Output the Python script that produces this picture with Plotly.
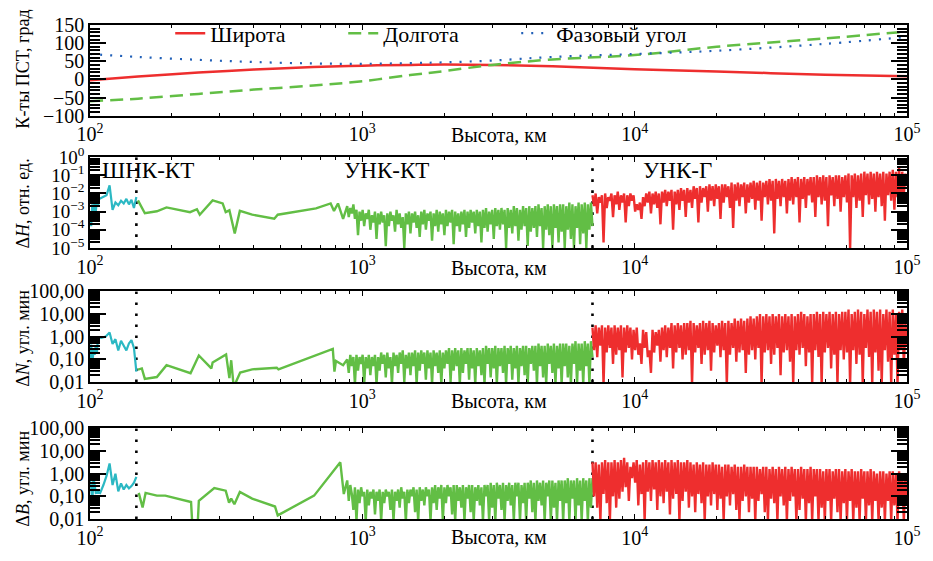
import numpy as np
import plotly.graph_objects as go

FONT = "Liberation Serif, Times New Roman, serif"
RED = "#EE2E2E"
GREEN = "#62BE45"
CYAN = "#2BB8C3"
BLUE = "#2160B8"

# ---------------- Panel 1: coordinates of the pole (deg) ----------------
ALT_P1 = [100, 150, 250, 400, 660, 1000, 1500, 2000, 3000, 5000, 10000, 20000, 50000, 100000]
LAT = [-2, 8, 19, 27, 34, 38, 40, 41, 40, 36, 28, 22, 13, 9]
LON = [-60, -53, -40, -28, -17, -5, 12, 23, 40, 55, 67, 90, 113, 132]
PHASE = [70, 62, 54, 48, 44, 43, 45, 47, 52, 62, 70, 79, 98, 117]

# model segment boundaries (km)
BOUNDS = [148, 7000]

# ---------------- Panel 2: dH (log10 values; dense parts in tenths of log10) ----------------
DH_SHNK_ALT = [100, 101, 102, 103, 104, 105, 106, 107, 108, 110, 112, 115, 118, 121, 124, 127, 130, 133, 136, 139, 142, 145, 148]
DH_SHNK_LOG = [-3.0, -3.8, -2.6, -3.2, -2.5, -3.0, -2.4, -2.7, -2.3, -2.25, -2.2, -2.1, -1.55, -2.9, -2.5, -2.65, -2.4, -2.55, -2.3, -2.6, -2.35, -2.8, -2.2]
DH_KT_ALT = [150, 159, 176, 191, 233, 247, 253, 282, 307, 315, 325, 340, 355, 394, 475, 489, 676, 765, 787, 814, 850]
DH_KT_LOG = [-2.38, -3.09, -2.98, -2.77, -3.03, -2.87, -3.17, -2.38, -2.55, -3.03, -2.93, -4.2, -2.96, -3.17, -3.39, -3.17, -2.82, -2.55, -2.96, -2.55, -3.4]
DH_KT_DENSE = [
    -27, -33, -28, -31, -26, -34, -29, -43, -30, -35, -29, -38, -31, -34, -29, -40, -32, -36, -30, -45,
    -31, -37, -30, -36, -32, -49, -31, -38, -30, -35, -32, -41, -29, -37, -31, -39, -33, -50, -31, -37,
    -30, -42, -31, -36, -30, -39, -32, -44, -30, -37, -29, -40, -31, -35, -30, -46, -31, -38, -29, -41,
    -30, -37, -31, -43, -29, -38, -30, -36, -29, -48, -30, -38, -31, -41, -30, -37, -29, -44, -30, -39,
    -29, -36, -30, -42, -29, -38, -30, -47, -29, -39, -28, -41, -30, -37, -29, -45, -28, -38, -29, -40,
    -28, -37, -29, -50, -28, -39, -29, -42, -27, -38, -28, -46, -29, -40, -27, -38, -28, -49, -27, -41,
    -28, -39, -27, -44, -26, -38, -28, -50, -27, -40, -26, -43, -27, -50, -26, -39, -27, -47, -26, -41,
    -26, -50, -27, -40, -25, -45, -26, -50, -27, -39, -25, -48, -26, -42, -25, -50, -26, -40, -25, -38]
DH_G = [
    -21, -27, -20, -31, -22, -25, -21, -47, -20, -28, -22, -24, -20, -33, -21, -26, -19, -29, -21, -25,
    -20, -36, -21, -27, -20, -24, -21, -30, -26, -29, -25, -34, -22, -27, -20, -25, -19, -31, -20, -26,
    -19, -28, -20, -37, -19, -25, -18, -27, -19, -24, -18, -40, -19, -26, -18, -29, -17, -24, -18, -33,
    -17, -25, -18, -28, -16, -23, -17, -36, -16, -25, -17, -22, -16, -30, -15, -24, -16, -27, -15, -23,
    -16, -34, -15, -25, -15, -22, -16, -28, -14, -39, -15, -24, -14, -27, -15, -22, -14, -31, -15, -25,
    -14, -23, -13, -29, -14, -24, -13, -35, -14, -22, -13, -26, -12, -24, -13, -42, -12, -23, -13, -27,
    -12, -22, -13, -31, -12, -24, -11, -26, -12, -22, -11, -36, -12, -23, -11, -28, -12, -21, -11, -25,
    -11, -33, -10, -22, -11, -26, -10, -24, -11, -38, -10, -21, -11, -27, -10, -23, -10, -30, -11, -22,
    -10, -25, -9, -51, -10, -22, -9, -28, -10, -24, -9, -33, -8, -21, -9, -26, -8, -23, -9, -30,
    -8, -22, -9, -27, -8, -35, -9, -21, -8, -24, -7, -29, -8, -22, -6, -25, -8, -20, -9, -16]

# ---------------- Panel 3: dN (log10 of arcmin) ----------------
DN_SHNK_ALT = [100, 101, 102, 103, 104, 105, 106, 107, 110, 114, 118, 121, 124, 127, 130, 133, 136, 139, 142, 145, 147, 148]
DN_SHNK_LOG = [-1.4, -0.35, -1.3, -0.55, -0.8, -0.4, -0.75, -0.03, -0.05, 0.0, 0.18, -0.32, -0.11, -0.61, -0.18, -0.4, -0.61, -0.3, -0.15, -0.5, -1.04, -1.54]
DN_KT_ALT = [150, 155, 159, 176, 191, 234, 251, 279, 282, 316, 325, 330, 336, 342, 356, 394, 485, 492, 779, 790, 800, 850]
DN_KT_LOG = [-1.45, -1.4, -1.86, -1.78, -1.26, -1.61, -0.83, -1.4, -1.14, -0.78, -1.83, -1.04, -2.05, -2.05, -1.58, -1.44, -1.37, -1.44, -0.54, -1.54, -1.07, -1.26]
DN_KT_DENSE = [
    -10, -16, -8, -13, -9, -21, -8, -15, -9, -12, -8, -21, -9, -14, -8, -17, -9, -13, -8, -21,
    -9, -15, -7, -12, -8, -18, -7, -14, -9, -21, -7, -13, -8, -16, -7, -12, -6, -20, -8, -14,
    -7, -17, -7, -13, -6, -21, -7, -15, -6, -12, -7, -19, -6, -14, -7, -21, -6, -13, -7, -16,
    -6, -21, -7, -14, -6, -12, -5, -20, -6, -15, -5, -13, -6, -21, -5, -16, -6, -12, -5, -19,
    -5, -14, -6, -21, -5, -13, -6, -17, -5, -21, -4, -12, -5, -18, -5, -14, -4, -21, -5, -13,
    -5, -16, -4, -21, -5, -12, -4, -19, -5, -14, -4, -21, -5, -13, -4, -17, -4, -21, -5, -12,
    -4, -15, -4, -21, -3, -13, -4, -18, -4, -21, -3, -12, -4, -16, -3, -21, -4, -14, -3, -21,
    -3, -13, -3, -18, -4, -21, -3, -12, -2, -21, -3, -15, -3, -21, -2, -13, -3, -21, -2, -9]
DN_G = [
    4, -6, 5, -9, 4, -4, 5, -21, 4, -7, 5, -5, 4, -12, 5, -8, 4, -6, 5, -18,
    4, -7, 5, -5, 4, -10, 3, -6, 4, -8, -3, -12, 3, -5, 2, -9, -6, -16, 3, -7,
    2, -4, 3, -11, 4, -6, 5, -9, 4, -5, 6, -14, 5, -7, 6, -5, 5, -10, 6, -8,
    6, -6, 7, -21, 6, -7, 5, -5, 6, -12, 7, -8, 6, -6, 7, -15, 6, -7, 5, -4,
    6, -9, 7, -6, 6, -21, 7, -8, 6, -5, 8, -11, 7, -7, 8, -6, 7, -16, 8, -8,
    9, -6, 8, -10, 9, -5, 10, -21, 9, -7, 10, -6, 9, -12, 10, -8, 9, -5, 10, -17,
    9, -7, 10, -6, 9, -11, 10, -21, 9, -6, 10, -8, 11, -5, 10, -13, 9, -7, 10, -21,
    10, -6, 11, -9, 10, -21, 11, -7, 10, -5, 11, -14, 10, -8, 11, -21, 10, -6, 11, -10,
    11, -7, 12, -21, 10, -6, 11, -12, 12, -8, 11, -21, 10, -5, 12, -9, 11, -21, 12, -7,
    11, -15, 12, -21, 10, -6, 12, -11, 11, -21, 12, -8, 10, -21, 11, -6, 12, -13, 6, -4]

# ---------------- Panel 4: dB (log10 of arcmin) ----------------
DB_SHNK_ALT = [100, 101, 102, 103, 104, 105, 107, 109, 112, 115, 118, 121, 124, 127, 130, 133, 136, 139, 142, 145, 148]
DB_SHNK_LOG = [-0.3, -0.6, -1.28, -0.14, -0.5, -0.85, -0.8, -0.85, -0.5, -0.1, 0.45, -0.5, 0.0, -0.78, -0.43, -0.7, -0.5, -0.65, -0.55, -0.4, -0.14]
DB_KT_ALT = [151, 156, 160, 176, 189, 235, 237, 249, 251, 286, 315, 324, 330, 339, 355, 394, 478, 489, 665, 830, 855]
DB_KT_LOG = [-0.85, -1.49, -0.85, -0.97, -0.97, -1.25, -2.05, -2.05, -1.2, -0.64, -0.75, -1.28, -1.1, -1.35, -0.81, -1.1, -1.45, -1.84, -0.97, 0.5, -0.9]
DB_KT_DENSE = [
    -3, -12, -5, -9, -16, -6, -21, -7, -13, -6, -10, -8, -21, -7, -14, -8, -11, -7, -18, -8,
    -12, -7, -21, -8, -13, -7, -10, -8, -16, -7, -21, -8, -12, -7, -15, -6, -11, -8, -21, -7,
    -13, -7, -10, -6, -17, -7, -21, -6, -12, -7, -14, -6, -10, -7, -21, -6, -13, -5, -16, -6,
    -11, -5, -21, -6, -13, -5, -10, -6, -18, -5, -21, -5, -12, -6, -15, -5, -21, -6, -11, -5,
    -17, -5, -21, -6, -12, -5, -14, -6, -21, -5, -10, -5, -21, -4, -15, -5, -21, -4, -11, -5,
    -16, -4, -21, -5, -12, -4, -14, -5, -21, -4, -10, -4, -21, -5, -13, -4, -21, -4, -11, -3,
    -17, -4, -21, -3, -12, -4, -14, -3, -21, -4, -10, -3, -21, -3, -15, -4, -21, -3, -12, -3,
    -21, -3, -13, -2, -21, -3, -11, -3, -21, -2, -14, -3, -21, -2, -12, -3, -21, -2, -15, -2]
DB_G = [
    5, -10, 5, -15, 4, -21, 5, -9, 6, -13, 5, -21, 5, -10, 6, -15, 5, -11, 6, -8,
    7, -6, 5, -12, 3, -2, 5, -4, 6, -14, 4, -9, 5, -21, 6, -8, 5, -12, 6, -7,
    5, -16, 6, -10, 5, -13, 6, -8, 5, -18, 6, -11, 5, -9, 6, -21, 5, -12, 5, -8,
    6, -15, 5, -10, 4, -17, 5, -9, 4, -13, 5, -21, 4, -10, 4, -14, 5, -9, 4, -16,
    4, -11, 3, -21, 4, -10, 4, -14, 3, -9, 4, -16, 3, -21, 3, -12, 4, -10, 3, -17,
    3, -11, 3, -21, 3, -12, 2, -9, 3, -17, 3, -21, 2, -11, 3, -13, 2, -21, 3, -10,
    2, -14, 3, -21, 2, -12, 3, -10, 2, -21, 2, -16, 3, -11, 2, -21, 2, -13, 3, -21,
    2, -10, 2, -21, 2, -15, 1, -21, 2, -12, 2, -21, 1, -11, 2, -17, 2, -21, 1, -13,
    2, -21, 1, -12, 2, -21, 1, -15, 1, -21, 2, -11, 1, -21, 1, -14, 2, -21, 1, -12,
    0, -21, 1, -15, 1, -21, 0, -12, 1, -21, 1, -14, 0, -21, 1, -11, 0, -21, 0, -10]

# altitude limits of the dense (model-sampled) parts
KT_DENSE_START, G_END = 880, 100000


def pw(v, scale=1.0):
    return [10 ** (x * scale) for x in v]


fig = go.Figure()

# panel 1
fig.add_trace(go.Scatter(x=ALT_P1, y=LAT, mode="lines", name="Широта",
                         line=dict(color=RED, width=2.5, shape="spline"), xaxis="x", yaxis="y"))
fig.add_trace(go.Scatter(x=ALT_P1, y=LON, mode="lines", name="Долгота",
                         line=dict(color=GREEN, width=2.5, dash="13px,7px", shape="spline"), xaxis="x", yaxis="y"))
fig.add_trace(go.Scatter(x=ALT_P1, y=PHASE, mode="lines", name="Фазовый угол",
                         line=dict(color=BLUE, width=2.2, dash="2px,8px", shape="spline"), xaxis="x", yaxis="y"))

panels = [
    (2, DH_SHNK_ALT, DH_SHNK_LOG, DH_KT_ALT, DH_KT_LOG, DH_KT_DENSE, DH_G, [1e-5, 1]),
    (3, DN_SHNK_ALT, DN_SHNK_LOG, DN_KT_ALT, DN_KT_LOG, DN_KT_DENSE, DN_G, [0.01, 100]),
    (4, DB_SHNK_ALT, DB_SHNK_LOG, DB_KT_ALT, DB_KT_LOG, DB_KT_DENSE, DB_G, [0.01, 100]),
]
for i, s_alt, s_log, kt_alt, kt_log, kt_dense, g_log, yext in panels:
    xa, ya = f"x{i}", f"y{i}"
    dense_alt = list(np.geomspace(KT_DENSE_START, BOUNDS[1], len(kt_dense)))
    g_alt = list(np.geomspace(BOUNDS[1], G_END, len(g_log)))
    for b in BOUNDS:
        fig.add_trace(go.Scatter(x=[b, b], y=yext, mode="lines", showlegend=False,
                                 line=dict(color="black", width=2.6, dash="2.6px,8.4px"), xaxis=xa, yaxis=ya))
    fig.add_trace(go.Scatter(x=s_alt, y=pw(s_log), mode="lines", showlegend=False,
                             line=dict(color=CYAN, width=2.2), xaxis=xa, yaxis=ya))
    fig.add_trace(go.Scatter(x=kt_alt + dense_alt, y=pw(kt_log) + pw(kt_dense, 0.1), mode="lines",
                             showlegend=False, line=dict(color=GREEN, width=2.4), xaxis=xa, yaxis=ya))
    fig.add_trace(go.Scatter(x=g_alt, y=pw(g_log, 0.1), mode="lines", showlegend=False,
                             line=dict(color=RED, width=2.4), xaxis=xa, yaxis=ya))

# ---------------- layout ----------------
domains = [(0.8164, 1.0), (0.5488, 0.7324), (0.2773, 0.4609), (0.0, 0.1836)]
X_DEC = [100, 1000, 10000, 100000]
X_TXT = ["10<sup>2</sup>", "10<sup>3</sup>", "10<sup>4</sup>", "10<sup>5</sup>"]
X_MINOR = [m * 10 ** k for k in (2, 3, 4) for m in range(2, 10)]

TICKFONT = dict(family=FONT, size=20, color="black")
common = dict(showline=True, linecolor="black", linewidth=1.5, mirror="allticks", showgrid=False,
              zeroline=False, ticks="inside", tickcolor="black", tickfont=TICKFONT)

layout = dict(width=933, height=561, margin=dict(l=90, r=12, t=20, b=29),
              paper_bgcolor="white", plot_bgcolor="white",
              font=dict(family=FONT, size=18, color="black"),
              showlegend=True,
              legend=dict(orientation="h", x=0.0982, xanchor="left", y=0.983, yanchor="middle",
                          bgcolor="rgba(0,0,0,0)", font=dict(family=FONT, size=22),
                          entrywidth=128, entrywidthmode="pixels"))

for i in range(1, 5):
    sfx = "" if i == 1 else str(i)
    layout["xaxis" + sfx] = dict(type="log", range=[2, 5], domain=[0, 1], anchor="y" + sfx,
                                 tickmode="array", tickvals=X_DEC, ticktext=X_TXT, ticklen=5, tickwidth=1.2,
                                 minor=dict(ticks="inside", ticklen=3, tickcolor="black", tickmode="array",
                                            tickvals=X_MINOR, showgrid=False),
                                 **common)

layout["yaxis"] = dict(range=[-100, 150], domain=list(domains[0]), anchor="x", tickmode="linear",
                       tick0=-100, dtick=50, ticklen=16, tickwidth=1.5,
                       minor=dict(ticks="inside", ticklen=10, tickcolor="black", dtick=10, tick0=0, showgrid=False),
                       **common)
Y2_VALS = [1e-5, 1e-4, 1e-3, 1e-2, 1e-1, 1]
Y2_TXT = ["10<sup>−5</sup>", "10<sup>−4</sup>", "10<sup>−3</sup>", "10<sup>−2</sup>", "10<sup>−1</sup>", "10<sup>0</sup>"]
Y2_MINOR = [m * 10.0 ** k for k in range(-5, 0) for m in range(2, 10)]
y2 = dict(common)
y2["tickfont"] = dict(family=FONT, size=19, color="black")
layout["yaxis2"] = dict(type="log", range=[-5, 0], domain=list(domains[1]), anchor="x2",
                        tickmode="array", tickvals=Y2_VALS, ticktext=Y2_TXT, ticklen=16, tickwidth=1.5,
                        minor=dict(ticks="inside", ticklen=10, tickcolor="black", tickmode="array",
                                   tickvals=Y2_MINOR, showgrid=False),
                        **y2)
Y34_VALS = [0.01, 0.1, 1, 10, 100]
Y34_TXT = ["0,01", "0,10", "1,00", "10,00", "100,00"]
Y34_MINOR = [m * 10.0 ** k for k in range(-2, 2) for m in range(2, 10)]
for i in (3, 4):
    layout[f"yaxis{i}"] = dict(type="log", range=[-2, 2], domain=list(domains[i - 1]), anchor=f"x{i}",
                               tickmode="array", tickvals=Y34_VALS, ticktext=Y34_TXT, ticklen=16, tickwidth=1.5,
                               minor=dict(ticks="inside", ticklen=10, tickcolor="black", tickmode="array",
                                          tickvals=Y34_MINOR, showgrid=False),
                               **common)

fig.update_layout(**layout)

# axis titles and segment labels as annotations
ann = []
for yp in (0.777, 0.508, 0.238, -0.037):
    ann.append(dict(text="Высота, км", xref="paper", yref="paper", x=0.5, y=yp, xanchor="center",
                    yanchor="middle", showarrow=False, font=dict(family=FONT, size=20)))
for txt, yp in (("К-ты ПСТ, град", 0.910), ("Δ<i>H</i>, отн. ед.", 0.639),
                ("Δ<i>N</i>, угл. мин", 0.365), ("Δ<i>B</i>, угл. мин", 0.082)):
    ann.append(dict(text=txt, xref="paper", yref="paper", x=-0.0818, y=yp, xanchor="center",
                    yanchor="middle", textangle=-90, showarrow=False, font=dict(family=FONT, size=18)))
for txt, xp in (("ШНК-КТ", 0.012), ("УНК-КТ", 0.309), ("УНК-Г", 0.674)):
    ann.append(dict(text=txt, xref="x2 domain", yref="y2 domain", x=xp, y=0.851, xanchor="left",
                    yanchor="middle", showarrow=False, font=dict(family=FONT, size=23)))
fig.update_layout(annotations=ann)

fig.write_html("out.html")
